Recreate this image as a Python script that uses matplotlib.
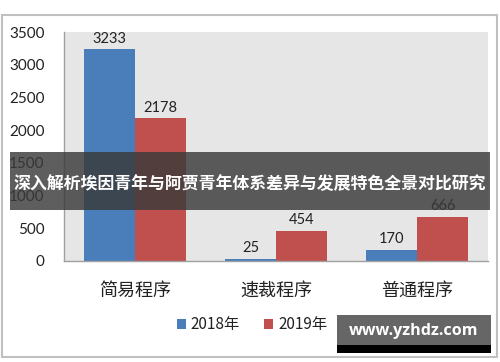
import matplotlib.pyplot as plt
import numpy as np
from matplotlib.patches import Rectangle

plt.rcParams['font.family'] = ['Noto Sans CJK SC', 'DejaVu Sans']

# data
categories = ['简易程序', '速裁程序', '普通程序']
series_names = ['2018年', '2019年']
values_2018 = [3233, 25, 170]
values_2019 = [2178, 454, 666]
yticks = [0, 500, 1000, 1500, 2000, 2500, 3000, 3500]

blue = '#4a7ebb'
red = '#c0504d'
W, H = 500, 362

fig = plt.figure(figsize=(W / 100, H / 100), dpi=100)
fig.patch.set_facecolor('white')

# outer chart frame
fig.patches.append(Rectangle((2 / W, 1 - 357 / H), 495 / W, 342 / H,
                             transform=fig.transFigure, fill=False,
                             edgecolor='#c0c0c0', linewidth=1.5))

ax = fig.add_axes([64 / W, 1 - 261 / H, 424 / W, 229 / H])
ax.set_facecolor('#e6e6e6')

x = np.arange(len(categories))
bw = 0.36
b1 = ax.bar(x - bw / 2, values_2018, bw, color=blue, label=series_names[0])
b2 = ax.bar(x + bw / 2, values_2019, bw, color=red, label=series_names[1])

for bars, vals in ((b1, values_2018), (b2, values_2019)):
    for b, v in zip(bars, vals):
        ax.text(b.get_x() + b.get_width() / 2, v + 60, str(v),
                ha='center', va='bottom', fontsize=10.5, color='#222222',
                family='Lato')

ax.set_xlim(-0.5, 2.5)
ax.set_ylim(0, 3500)
ax.set_yticks(yticks)
ax.set_yticklabels([str(t) for t in yticks], family='Lato', fontsize=11,
                   color='#222222')
ax.set_xticks(x)
ax.set_xticklabels(categories, fontsize=13, color='#222222')
ax.tick_params(axis='both', length=0)
ax.tick_params(axis='y', pad=14)
ax.tick_params(axis='x', pad=15)
for s in ('top', 'right'):
    ax.spines[s].set_visible(False)
for s in ('left', 'bottom'):
    ax.spines[s].set_color('#a0a0a0')
    ax.spines[s].set_linewidth(1)

leg = fig.legend(handles=[b1, b2], labels=series_names, loc='center',
                 bbox_to_anchor=(252 / W, 1 - 325 / H), ncol=2, frameon=False,
                 fontsize=11, handlelength=0.6, handleheight=0.6,
                 handletextpad=0.3, columnspacing=1.6)
for t in leg.get_texts():
    t.set_color('#222222')

# title banner over the chart
fig.patches.append(Rectangle((10 / W, 1 - 210 / H), 480 / W, 58 / H,
                             transform=fig.transFigure, facecolor='#3a3a3a',
                             alpha=0.82, edgecolor='none', zorder=5))
fig.text(250 / W, 1 - 184 / H, '深入解析埃因青年与阿贾青年体系差异与发展特色全景对比研究',
         ha='center', va='center', color='white', fontsize=12.2,
         fontweight='bold', zorder=6)

# watermark
fig.patches.append(Rectangle((337 / W, 1 - 353 / H), 154 / W, 8 / H,
                             transform=fig.transFigure, facecolor='black',
                             edgecolor='none', zorder=5))
fig.patches.append(Rectangle((337 / W, 1 - 345 / H), 154 / W, 30 / H,
                             transform=fig.transFigure, facecolor='#666666',
                             edgecolor='none', zorder=6))
fig.text(414 / W, 1 - 331 / H, 'www.yzhdz.com', ha='center', va='center',
         color='white', fontsize=11.6, fontweight='bold', family='Open Sans',
         zorder=7)

fig.savefig('out.png', dpi=100)
